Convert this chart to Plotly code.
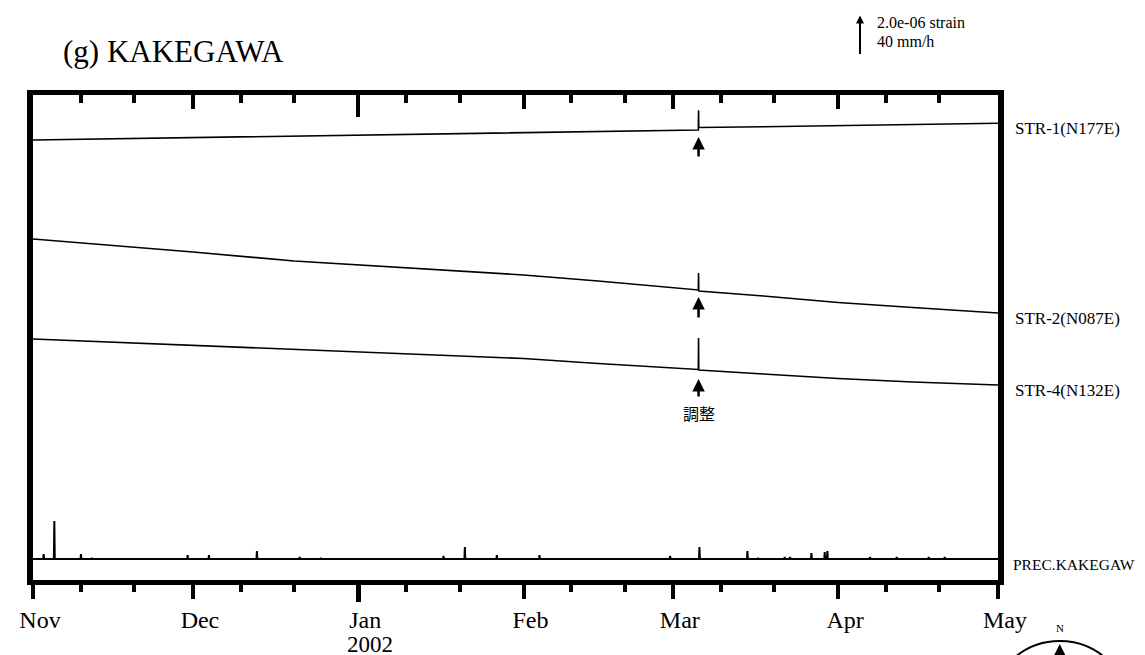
import pandas as pd
import plotly.graph_objects as go

# ---------------- data ----------------
# strain changes in units of 1e-6 strain, relative to 2001-11-01
strain_dates = ["2001-11-01", "2001-11-15", "2001-12-01", "2001-12-20", "2002-01-01",
                "2002-01-20", "2002-02-01", "2002-02-15", "2002-03-01",
                "2002-03-05 19:00", "2002-03-05 20:00", "2002-03-05 21:00",
                "2002-03-18", "2002-04-01", "2002-04-15", "2002-05-01"]
str1 = [0, 0.06, 0.125, 0.21, 0.26, 0.335, 0.375, 0.435, 0.485, 0.5, 1.485, 0.625,
        0.66, 0.71, 0.77, 0.835]
str2 = [0, -0.3, -0.65, -1.1, -1.3, -1.6, -1.8, -2.1, -2.425, -2.55, -1.7, -2.6,
        -2.85, -3.175, -3.425, -3.7]
str4 = [0, -0.15, -0.325, -0.525, -0.65, -0.85, -0.975, -1.225, -1.425, -1.525, 0.05,
        -1.55, -1.75, -1.975, -2.15, -2.3]
series_names = ["STR-1(N177E)", "STR-2(N087E)", "STR-4(N132E)"]

# hourly precipitation at Kakegawa (mm/h)
prec_dates = ["2001-11-03", "2001-11-05", "2001-11-10", "2001-11-12", "2001-11-30",
              "2001-12-04", "2001-12-13", "2001-12-21", "2001-12-25", "2002-01-17",
              "2002-01-21", "2002-01-27", "2002-02-04", "2002-02-28 12:00",
              "2002-03-06", "2002-03-15", "2002-03-17", "2002-03-22", "2002-03-23",
              "2002-03-27", "2002-03-29 12:00", "2002-03-30", "2002-04-07",
              "2002-04-12", "2002-04-18", "2002-04-21"]
prec_mmh = [5, 38, 5, 1, 4, 4, 8, 2, 1, 3, 12, 4, 4, 3, 12, 8, 1, 2, 2, 6, 7, 8,
            2, 2, 2, 2]
prec_name = "PREC.KAKEGAW"

adjust_date = "2002-03-05 20:00"
adjust_label = "調整"

month_ticks = ["2001-11-01", "2001-12-01", "2002-01-01", "2002-02-01", "2002-03-01",
               "2002-04-01", "2002-05-01"]
month_labels = ["Nov", "Dec", "Jan", "Feb", "Mar", "Apr", "May"]
minor_ticks = ["2001-11-10", "2001-11-20", "2001-12-10", "2001-12-20", "2002-01-10",
               "2002-01-20", "2002-02-10", "2002-02-20", "2002-03-10", "2002-03-20",
               "2002-04-10", "2002-04-20"]
year_tick = "2002-01-01"
year_label = "2002"

scale_strain_label = "2.0e-06 strain"
scale_prec_label = "40 mm/h"
scale_strain = 2.0      # 1e-6 strain shown by the scale arrow
scale_prec = 40.0       # mm/h shown by the same arrow

# ---------------- layout constants ----------------
offsets = [22.0, 17.05, 12.05]
prec_offset = 1.05
y_top = 24.25
M_L, M_R, M_T, M_B = 25, 155, 87, 83
PLOT_H = 655 - M_T - M_B
px_per_unit = PLOT_H / y_top
SERIF = "Liberation Serif, Times New Roman, serif"

sdates = [pd.Timestamp(d) for d in strain_dates]

fig = go.Figure()

for name, vals, off in zip(series_names, [str1, str2, str4], offsets):
    fig.add_trace(go.Scatter(x=sdates, y=[v + off for v in vals],
                             mode="lines", line=dict(color="black", width=1.6),
                             name=name, showlegend=False, hoverinfo="skip"))

# precipitation spikes built from the hourly values
px_, py_ = [pd.Timestamp(month_ticks[0])], [prec_offset]
k = scale_strain / scale_prec
for d, v in zip(prec_dates, prec_mmh):
    t = pd.Timestamp(d)
    px_ += [t - pd.Timedelta(hours=2), t, t + pd.Timedelta(hours=2)]
    py_ += [prec_offset, prec_offset + v * k, prec_offset]
px_.append(pd.Timestamp(month_ticks[-1]))
py_.append(prec_offset)
fig.add_trace(go.Scatter(x=px_, y=py_, mode="lines", line=dict(color="black", width=2),
                         showlegend=False, hoverinfo="skip"))

# invisible traces so that the extra tick axes get drawn
for ax in ["x2", "x3", "x4"]:
    fig.add_trace(go.Scatter(x=[pd.Timestamp(month_ticks[0])], y=[0], xaxis=ax, yaxis="y",
                             mode="markers", marker=dict(opacity=0), showlegend=False,
                             hoverinfo="skip"))

xr = [month_ticks[0], month_ticks[-1]]
common = dict(type="date", range=xr, showgrid=False, zeroline=False, fixedrange=True)

ann = []
# series labels at the right
for name, vals, off in zip(series_names, [str1, str2, str4], offsets):
    ann.append(dict(x=1, xref="paper", y=vals[-1] + off, yref="y", text=name,
                    showarrow=False, xanchor="left", yanchor="middle", xshift=15,
                    yshift=-5, font=dict(family=SERIF, size=17, color="black")))
ann.append(dict(x=1, xref="paper", y=prec_offset, yref="y", text=prec_name,
                showarrow=False, xanchor="left", yanchor="middle", xshift=13, yshift=-5,
                font=dict(family=SERIF, size=15.5, color="black")))

# adjustment arrows
idx = strain_dates.index(adjust_date)
adj_t = pd.Timestamp(adjust_date)
for vals, off, so in zip([str1, str2, str4], offsets, [7, 6, 9]):
    base = min(vals[idx - 1], vals[idx + 1]) + off
    ann.append(dict(x=adj_t, y=base, xref="x", yref="y", text="",
                    showarrow=True, arrowhead=2, arrowsize=1, arrowwidth=2.5,
                    arrowcolor="black", ax=0, ay=28, standoff=so))
ann.append(dict(x=adj_t, y=min(str4[idx - 1], str4[idx + 1]) + offsets[2],
                xref="x", yref="y", text=adjust_label, showarrow=False, yshift=-43,
                xanchor="center", yanchor="middle",
                font=dict(family="Noto Sans CJK JP", size=16, color="black")))

# year label
ann.append(dict(x=pd.Timestamp(year_tick), xref="x", y=0, yref="y", text=year_label,
                showarrow=False, yshift=-64, xshift=12, xanchor="center", yanchor="middle",
                font=dict(family=SERIF, size=23, color="black")))

# title
ann.append(dict(x=0.029, xref="paper", y=1.09, yref="paper", text="(g) KAKEGAWA",
                showarrow=False, xanchor="left", yanchor="middle",
                font=dict(family=SERIF, size=31, color="black")))

# scale bar (arrow length = scale_strain in axis units)
ann.append(dict(x=0.857, xref="paper", y=1.164, yref="paper", text="", showarrow=True,
                ax=0, ay=scale_strain * px_per_unit,
                arrowhead=2, arrowsize=0.8, arrowwidth=2, arrowcolor="black"))
ann.append(dict(x=0.8725, xref="paper", y=1.1485, yref="paper", text=scale_strain_label,
                showarrow=False, xanchor="left", yanchor="middle",
                font=dict(family=SERIF, size=16, color="black")))
ann.append(dict(x=0.8725, xref="paper", y=1.1113, yref="paper", text=scale_prec_label,
                showarrow=False, xanchor="left", yanchor="middle",
                font=dict(family=SERIF, size=16, color="black")))

# compass
ann.append(dict(x=1.064, xref="paper", y=-0.132, yref="paper", text="", showarrow=True,
                ax=0, ay=40, arrowhead=2, arrowsize=1, arrowwidth=2.5, arrowcolor="black"))
ann.append(dict(x=1.064, xref="paper", y=-0.099, yref="paper", text="N", showarrow=False,
                xanchor="center", yanchor="middle",
                font=dict(family=SERIF, size=11, color="black")))

shapes = [dict(type="circle", xref="paper", yref="paper", xsizemode="pixel",
               ysizemode="pixel", xanchor=1.064, yanchor=-0.27, x0=-70, x1=70,
               y0=-70, y1=70, line=dict(color="black", width=2))]

fig.update_layout(
    width=1145, height=655,
    margin=dict(l=M_L, r=M_R, t=M_T, b=M_B),
    paper_bgcolor="white", plot_bgcolor="white",
    showlegend=False,
    xaxis=dict(**common, showline=True, linewidth=5, linecolor="black",
               tickmode="array", tickvals=month_ticks, ticktext=month_labels,
               ticks="outside", ticklen=14, tickwidth=4, tickcolor="black",
               ticklabelshift=7,
               tickfont=dict(family=SERIF, size=24, color="black"),
               minor=dict(tickmode="array", tickvals=minor_ticks, ticks="outside",
                          ticklen=7, tickwidth=4, tickcolor="black")),
    xaxis2=dict(**common, overlaying="x", side="top", matches="x", showline=True,
                linewidth=5, linecolor="black", tickmode="array", tickvals=month_ticks,
                ticks="inside", ticklen=14, tickwidth=4, tickcolor="black",
                showticklabels=False,
                minor=dict(tickmode="array", tickvals=minor_ticks, ticks="inside",
                           ticklen=8, tickwidth=4, tickcolor="black")),
    xaxis3=dict(**common, overlaying="x", side="bottom", matches="x", showline=False,
                tickmode="array", tickvals=[year_tick], ticks="outside", ticklen=21,
                tickwidth=5, tickcolor="black", showticklabels=False),
    xaxis4=dict(**common, overlaying="x", side="top", matches="x", showline=False,
                tickmode="array", tickvals=[year_tick], ticks="inside", ticklen=22,
                tickwidth=4, tickcolor="black", showticklabels=False),
    yaxis=dict(range=[0, y_top], showline=True, linewidth=6, linecolor="black",
               mirror=True, showticklabels=False, ticks="", showgrid=False,
               zeroline=False, fixedrange=True),
    annotations=ann,
    shapes=shapes,
)

fig.write_html("out.html")
